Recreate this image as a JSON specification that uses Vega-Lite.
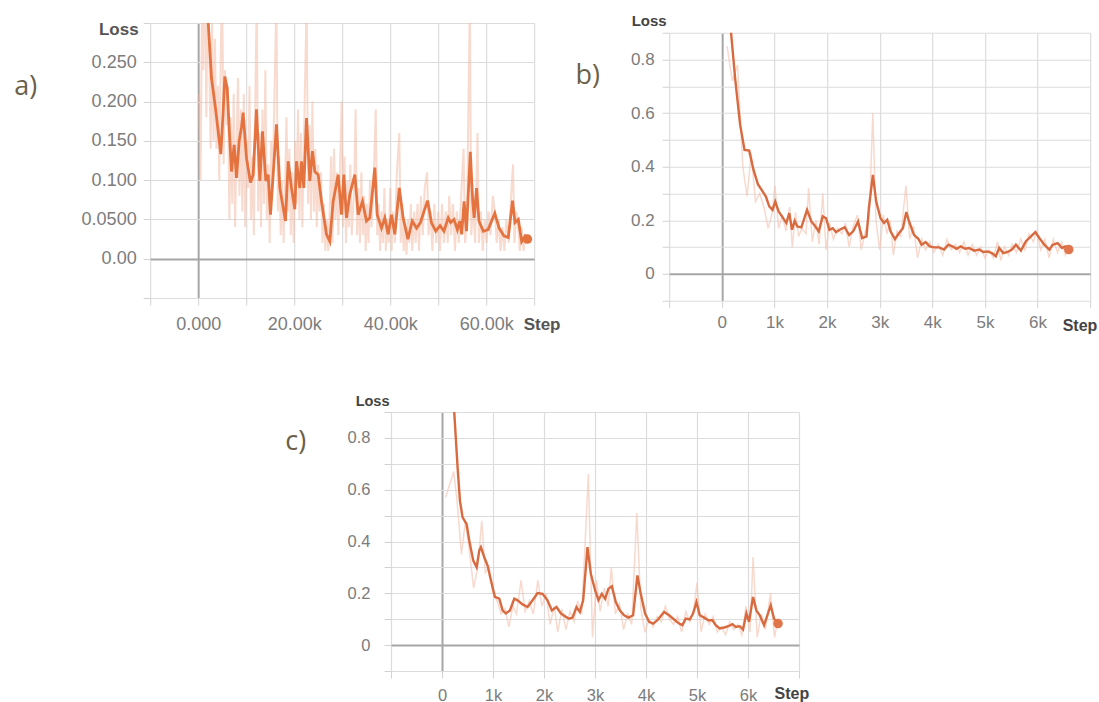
{
  "$schema": "https://vega.github.io/schema/vega-lite/v6.json",
  "padding": {"left": 14, "top": 13, "right": 0, "bottom": 0},
  "background": "white",
  "config": {
    "view": {"stroke": null},
    "axis": {
      "domain": false,
      "ticks": true,
      "tickSize": 7,
      "tickColor": "#d2d2d2",
      "labelFont": "Liberation Sans",
      "titleFont": "Liberation Sans",
      "labelColor": "#7c7c7c",
      "titleFontWeight": "bold",
      "labelFlush": false,
      "labelOverlap": false,
      "grid": true
    }
  },
  "datasets": {
    "a_smooth": [
      {"step":300,"loss":0.45},{"step":1500,"loss":0.36},{"step":2100,"loss":0.30},{"step":2778,"loss":0.230},{"step":3680,"loss":0.188},{"step":4722,"loss":0.133},{"step":5208,"loss":0.188},{"step":5556,"loss":0.232},{"step":6042,"loss":0.217},{"step":6458,"loss":0.167},{"step":6944,"loss":0.111},{"step":7500,"loss":0.145},{"step":7986,"loss":0.103},{"step":8542,"loss":0.150},{"step":9028,"loss":0.167},{"step":9375,"loss":0.186},{"step":10069,"loss":0.128},{"step":10903,"loss":0.097},{"step":11458,"loss":0.107},{"step":12153,"loss":0.190},{"step":12847,"loss":0.099},{"step":13403,"loss":0.162},{"step":14097,"loss":0.099},{"step":14583,"loss":0.107},{"step":15069,"loss":0.056},{"step":15625,"loss":0.107},{"step":16319,"loss":0.171},{"step":17014,"loss":0.090},{"step":18194,"loss":0.048},{"step":18750,"loss":0.124},{"step":19444,"loss":0.090},{"step":20139,"loss":0.063},{"step":20486,"loss":0.124},{"step":21181,"loss":0.090},{"step":21528,"loss":0.124},{"step":22014,"loss":0.090},{"step":22569,"loss":0.179},{"step":23264,"loss":0.099},{"step":23819,"loss":0.137},{"step":24306,"loss":0.111},{"step":25000,"loss":0.107},{"step":25694,"loss":0.073},{"step":26736,"loss":0.031},{"step":27431,"loss":0.022},{"step":28125,"loss":0.073},{"step":29167,"loss":0.107},{"step":29861,"loss":0.056},{"step":30347,"loss":0.107},{"step":30903,"loss":0.052},{"step":31597,"loss":0.082},{"step":32639,"loss":0.107},{"step":33333,"loss":0.056},{"step":34236,"loss":0.073},{"step":35069,"loss":0.048},{"step":35764,"loss":0.052},{"step":36806,"loss":0.116},{"step":37292,"loss":0.056},{"step":38194,"loss":0.039},{"step":38889,"loss":0.052},{"step":39583,"loss":0.031},{"step":40278,"loss":0.056},{"step":40972,"loss":0.031},{"step":41900,"loss":0.090},{"step":42700,"loss":0.052},{"step":43700,"loss":0.025},{"step":44600,"loss":0.048},{"step":45500,"loss":0.039},{"step":46300,"loss":0.046},{"step":47100,"loss":0.061},{"step":47800,"loss":0.074},{"step":48600,"loss":0.046},{"step":49500,"loss":0.035},{"step":50400,"loss":0.042},{"step":51200,"loss":0.035},{"step":52100,"loss":0.052},{"step":52600,"loss":0.046},{"step":53300,"loss":0.050},{"step":54000,"loss":0.037},{"step":54500,"loss":0.048},{"step":54900,"loss":0.031},{"step":55400,"loss":0.073},{"step":55900,"loss":0.035},{"step":56700,"loss":0.136},{"step":57200,"loss":0.073},{"step":57500,"loss":0.052},{"step":58000,"loss":0.090},{"step":58500,"loss":0.048},{"step":59400,"loss":0.035},{"step":60400,"loss":0.037},{"step":61800,"loss":0.058},{"step":62700,"loss":0.039},{"step":63700,"loss":0.029},{"step":64600,"loss":0.027},{"step":65500,"loss":0.074},{"step":66000,"loss":0.046},{"step":66700,"loss":0.050},{"step":67400,"loss":0.022},{"step":68100,"loss":0.029},{"step":68600,"loss":0.025}
    ],
    "a_raw": [
      {"step":200,"loss":0.21},{"step":500,"loss":0.10},{"step":800,"loss":0.32},{"step":1100,"loss":0.24},{"step":1400,"loss":0.45},{"step":1700,"loss":0.18},{"step":2000,"loss":0.35},{"step":2300,"loss":0.26},{"step":2600,"loss":0.14},{"step":2900,"loss":0.30},{"step":3200,"loss":0.15},{"step":3500,"loss":0.28},{"step":3800,"loss":0.14},{"step":4100,"loss":0.22},{"step":4400,"loss":0.10},{"step":4700,"loss":0.26},{"step":5000,"loss":0.35},{"step":5300,"loss":0.12},{"step":5600,"loss":0.24},{"step":5900,"loss":0.17},{"step":6200,"loss":0.22},{"step":6500,"loss":0.05},{"step":6800,"loss":0.18},{"step":7100,"loss":0.07},{"step":7400,"loss":0.21},{"step":7700,"loss":0.04},{"step":8000,"loss":0.15},{"step":8300,"loss":0.23},{"step":8600,"loss":0.08},{"step":8900,"loss":0.19},{"step":9200,"loss":0.06},{"step":9500,"loss":0.21},{"step":9800,"loss":0.04},{"step":10100,"loss":0.15},{"step":10400,"loss":0.09},{"step":10700,"loss":0.22},{"step":11000,"loss":0.05},{"step":11300,"loss":0.13},{"step":11600,"loss":0.03},{"step":11900,"loss":0.20},{"step":12200,"loss":0.33},{"step":12500,"loss":0.06},{"step":12800,"loss":0.16},{"step":13100,"loss":0.04},{"step":13400,"loss":0.19},{"step":13700,"loss":0.07},{"step":14000,"loss":0.24},{"step":14300,"loss":0.05},{"step":14600,"loss":0.12},{"step":14900,"loss":0.02},{"step":15200,"loss":0.15},{"step":15500,"loss":0.09},{"step":15800,"loss":0.18},{"step":16300,"loss":0.33},{"step":16600,"loss":0.06},{"step":16900,"loss":0.13},{"step":17200,"loss":0.03},{"step":17500,"loss":0.10},{"step":17800,"loss":0.02},{"step":18100,"loss":0.09},{"step":18400,"loss":0.18},{"step":18700,"loss":0.06},{"step":19000,"loss":0.14},{"step":19300,"loss":0.03},{"step":19600,"loss":0.11},{"step":19900,"loss":0.02},{"step":20200,"loss":0.15},{"step":20500,"loss":0.07},{"step":20800,"loss":0.19},{"step":21100,"loss":0.05},{"step":21400,"loss":0.16},{"step":21700,"loss":0.04},{"step":22000,"loss":0.14},{"step":22600,"loss":0.33},{"step":22900,"loss":0.07},{"step":23200,"loss":0.17},{"step":23500,"loss":0.05},{"step":23800,"loss":0.20},{"step":24100,"loss":0.06},{"step":24400,"loss":0.14},{"step":24700,"loss":0.04},{"step":25000,"loss":0.12},{"step":25300,"loss":0.06},{"step":25600,"loss":0.11},{"step":25900,"loss":0.02},{"step":26200,"loss":0.07},{"step":26500,"loss":0.01},{"step":26800,"loss":0.05},{"step":27100,"loss":0.01},{"step":27400,"loss":0.06},{"step":27700,"loss":0.13},{"step":28000,"loss":0.02},{"step":28300,"loss":0.14},{"step":28600,"loss":0.05},{"step":28900,"loss":0.11},{"step":29200,"loss":0.03},{"step":29900,"loss":0.20},{"step":30200,"loss":0.04},{"step":30500,"loss":0.13},{"step":30800,"loss":0.02},{"step":31100,"loss":0.10},{"step":31400,"loss":0.04},{"step":31700,"loss":0.12},{"step":32000,"loss":0.03},{"step":32500,"loss":0.09},{"step":32800,"loss":0.19},{"step":33100,"loss":0.03},{"step":33400,"loss":0.09},{"step":33700,"loss":0.02},{"step":34000,"loss":0.11},{"step":34300,"loss":0.03},{"step":34600,"loss":0.08},{"step":34900,"loss":0.01},{"step":35200,"loss":0.07},{"step":35500,"loss":0.02},{"step":35800,"loss":0.10},{"step":36100,"loss":0.04},{"step":36500,"loss":0.09},{"step":37000,"loss":0.19},{"step":37300,"loss":0.03},{"step":37600,"loss":0.07},{"step":37900,"loss":0.01},{"step":38200,"loss":0.06},{"step":38500,"loss":0.02},{"step":38800,"loss":0.09},{"step":39100,"loss":0.01},{"step":39400,"loss":0.05},{"step":39700,"loss":0.02},{"step":40000,"loss":0.09},{"step":40300,"loss":0.01},{"step":40600,"loss":0.06},{"step":41000,"loss":0.02},{"step":41400,"loss":0.11},{"step":41900,"loss":0.16},{"step":42200,"loss":0.02},{"step":42500,"loss":0.07},{"step":42800,"loss":0.01},{"step":43100,"loss":0.04},{"step":43400,"loss":0.005},{"step":43700,"loss":0.05},{"step":44000,"loss":0.02},{"step":44300,"loss":0.07},{"step":44600,"loss":0.01},{"step":45000,"loss":0.06},{"step":45300,"loss":0.02},{"step":45700,"loss":0.07},{"step":46000,"loss":0.01},{"step":46400,"loss":0.08},{"step":46800,"loss":0.03},{"step":47200,"loss":0.09},{"step":47700,"loss":0.11},{"step":48000,"loss":0.03},{"step":48400,"loss":0.06},{"step":48800,"loss":0.01},{"step":49200,"loss":0.07},{"step":49600,"loss":0.02},{"step":50000,"loss":0.06},{"step":50400,"loss":0.01},{"step":50800,"loss":0.07},{"step":51200,"loss":0.02},{"step":51600,"loss":0.06},{"step":52000,"loss":0.02},{"step":52300,"loss":0.08},{"step":52700,"loss":0.03},{"step":53100,"loss":0.07},{"step":53500,"loss":0.01},{"step":53900,"loss":0.06},{"step":54300,"loss":0.02},{"step":54700,"loss":0.07},{"step":55300,"loss":0.14},{"step":55600,"loss":0.02},{"step":56000,"loss":0.05},{"step":56600,"loss":0.33},{"step":56900,"loss":0.03},{"step":57300,"loss":0.07},{"step":57700,"loss":0.02},{"step":58200,"loss":0.16},{"step":58500,"loss":0.02},{"step":58900,"loss":0.06},{"step":59300,"loss":0.01},{"step":59700,"loss":0.05},{"step":60100,"loss":0.02},{"step":60500,"loss":0.06},{"step":60900,"loss":0.03},{"step":61400,"loss":0.08},{"step":61800,"loss":0.06},{"step":62200,"loss":0.02},{"step":62600,"loss":0.05},{"step":63000,"loss":0.01},{"step":63400,"loss":0.04},{"step":63800,"loss":0.01},{"step":64200,"loss":0.05},{"step":64700,"loss":0.02},{"step":65100,"loss":0.07},{"step":65600,"loss":0.12},{"step":65900,"loss":0.02},{"step":66300,"loss":0.06},{"step":66700,"loss":0.04},{"step":67000,"loss":0.01},{"step":67400,"loss":0.04},{"step":67800,"loss":0.01},{"step":68200,"loss":0.03},{"step":68600,"loss":0.02}
    ],
    "b_smooth": [
      {"step":100,"loss":1.07},{"step":178,"loss":0.897},{"step":254,"loss":0.729},{"step":349,"loss":0.556},{"step":432,"loss":0.463},{"step":521,"loss":0.460},{"step":603,"loss":0.388},{"step":686,"loss":0.335},{"step":775,"loss":0.308},{"step":838,"loss":0.289},{"step":902,"loss":0.252},{"step":965,"loss":0.239},{"step":1016,"loss":0.270},{"step":1080,"loss":0.233},{"step":1156,"loss":0.211},{"step":1226,"loss":0.190},{"step":1283,"loss":0.227},{"step":1334,"loss":0.165},{"step":1385,"loss":0.198},{"step":1436,"loss":0.177},{"step":1512,"loss":0.174},{"step":1620,"loss":0.239},{"step":1702,"loss":0.196},{"step":1779,"loss":0.177},{"step":1842,"loss":0.159},{"step":1918,"loss":0.215},{"step":1982,"loss":0.208},{"step":2045,"loss":0.165},{"step":2109,"loss":0.171},{"step":2172,"loss":0.156},{"step":2255,"loss":0.167},{"step":2337,"loss":0.174},{"step":2420,"loss":0.145},{"step":2500,"loss":0.160},{"step":2590,"loss":0.196},{"step":2667,"loss":0.134},{"step":2750,"loss":0.140},{"step":2795,"loss":0.246},{"step":2871,"loss":0.370},{"step":2934,"loss":0.270},{"step":3017,"loss":0.208},{"step":3080,"loss":0.190},{"step":3144,"loss":0.202},{"step":3207,"loss":0.159},{"step":3290,"loss":0.130},{"step":3366,"loss":0.152},{"step":3442,"loss":0.171},{"step":3506,"loss":0.231},{"step":3569,"loss":0.190},{"step":3652,"loss":0.146},{"step":3735,"loss":0.131},{"step":3798,"loss":0.109},{"step":3874,"loss":0.119},{"step":3951,"loss":0.103},{"step":4033,"loss":0.099},{"step":4128,"loss":0.099},{"step":4224,"loss":0.091},{"step":4306,"loss":0.109},{"step":4382,"loss":0.103},{"step":4458,"loss":0.094},{"step":4541,"loss":0.103},{"step":4624,"loss":0.094},{"step":4700,"loss":0.097},{"step":4795,"loss":0.087},{"step":4891,"loss":0.091},{"step":4967,"loss":0.082},{"step":5049,"loss":0.084},{"step":5132,"loss":0.078},{"step":5208,"loss":0.066},{"step":5271,"loss":0.097},{"step":5348,"loss":0.078},{"step":5430,"loss":0.082},{"step":5513,"loss":0.091},{"step":5589,"loss":0.109},{"step":5684,"loss":0.087},{"step":5780,"loss":0.122},{"step":5875,"loss":0.140},{"step":5958,"loss":0.156},{"step":6034,"loss":0.134},{"step":6129,"loss":0.109},{"step":6224,"loss":0.091},{"step":6288,"loss":0.109},{"step":6383,"loss":0.115},{"step":6466,"loss":0.097},{"step":6529,"loss":0.103},{"step":6593,"loss":0.091}
    ],
    "b_raw": [
      {"step":100,"loss":0.85},{"step":200,"loss":0.72},{"step":300,"loss":0.78},{"step":400,"loss":0.40},{"step":480,"loss":0.29},{"step":560,"loss":0.45},{"step":640,"loss":0.27},{"step":720,"loss":0.30},{"step":800,"loss":0.25},{"step":880,"loss":0.17},{"step":950,"loss":0.22},{"step":1010,"loss":0.33},{"step":1080,"loss":0.17},{"step":1150,"loss":0.22},{"step":1220,"loss":0.16},{"step":1290,"loss":0.25},{"step":1340,"loss":0.10},{"step":1400,"loss":0.23},{"step":1460,"loss":0.14},{"step":1520,"loss":0.17},{"step":1600,"loss":0.15},{"step":1650,"loss":0.32},{"step":1720,"loss":0.12},{"step":1790,"loss":0.20},{"step":1850,"loss":0.11},{"step":1920,"loss":0.30},{"step":1980,"loss":0.09},{"step":2050,"loss":0.19},{"step":2120,"loss":0.13},{"step":2200,"loss":0.17},{"step":2280,"loss":0.15},{"step":2350,"loss":0.19},{"step":2420,"loss":0.10},{"step":2500,"loss":0.18},{"step":2580,"loss":0.22},{"step":2650,"loss":0.09},{"step":2730,"loss":0.16},{"step":2800,"loss":0.20},{"step":2870,"loss":0.60},{"step":2930,"loss":0.20},{"step":3000,"loss":0.09},{"step":3070,"loss":0.22},{"step":3140,"loss":0.15},{"step":3200,"loss":0.20},{"step":3260,"loss":0.07},{"step":3330,"loss":0.16},{"step":3400,"loss":0.14},{"step":3500,"loss":0.33},{"step":3570,"loss":0.13},{"step":3640,"loss":0.18},{"step":3720,"loss":0.06},{"step":3800,"loss":0.13},{"step":3870,"loss":0.09},{"step":3950,"loss":0.12},{"step":4030,"loss":0.08},{"step":4110,"loss":0.11},{"step":4200,"loss":0.07},{"step":4280,"loss":0.13},{"step":4360,"loss":0.09},{"step":4440,"loss":0.11},{"step":4520,"loss":0.08},{"step":4600,"loss":0.12},{"step":4680,"loss":0.07},{"step":4760,"loss":0.11},{"step":4840,"loss":0.07},{"step":4920,"loss":0.10},{"step":5000,"loss":0.06},{"step":5080,"loss":0.09},{"step":5160,"loss":0.06},{"step":5240,"loss":0.12},{"step":5300,"loss":0.05},{"step":5370,"loss":0.10},{"step":5450,"loss":0.07},{"step":5520,"loss":0.11},{"step":5600,"loss":0.08},{"step":5680,"loss":0.13},{"step":5760,"loss":0.09},{"step":5840,"loss":0.15},{"step":5920,"loss":0.12},{"step":5990,"loss":0.16},{"step":6060,"loss":0.09},{"step":6140,"loss":0.13},{"step":6220,"loss":0.06},{"step":6300,"loss":0.13},{"step":6380,"loss":0.08},{"step":6460,"loss":0.12},{"step":6530,"loss":0.07},{"step":6590,"loss":0.10}
    ],
    "c_smooth": [
      {"step":170,"loss":1.12},{"step":241,"loss":0.896},{"step":306,"loss":0.685},{"step":352,"loss":0.557},{"step":404,"loss":0.493},{"step":483,"loss":0.467},{"step":535,"loss":0.403},{"step":613,"loss":0.326},{"step":679,"loss":0.301},{"step":731,"loss":0.365},{"step":763,"loss":0.378},{"step":829,"loss":0.339},{"step":894,"loss":0.307},{"step":959,"loss":0.250},{"step":1038,"loss":0.186},{"step":1123,"loss":0.179},{"step":1188,"loss":0.134},{"step":1253,"loss":0.122},{"step":1332,"loss":0.134},{"step":1417,"loss":0.179},{"step":1482,"loss":0.173},{"step":1580,"loss":0.157},{"step":1678,"loss":0.147},{"step":1776,"loss":0.173},{"step":1874,"loss":0.201},{"step":1972,"loss":0.198},{"step":2069,"loss":0.173},{"step":2154,"loss":0.134},{"step":2246,"loss":0.147},{"step":2331,"loss":0.122},{"step":2429,"loss":0.109},{"step":2494,"loss":0.102},{"step":2559,"loss":0.106},{"step":2637,"loss":0.147},{"step":2703,"loss":0.128},{"step":2768,"loss":0.173},{"step":2853,"loss":0.378},{"step":2918,"loss":0.275},{"step":3003,"loss":0.211},{"step":3068,"loss":0.173},{"step":3134,"loss":0.198},{"step":3199,"loss":0.179},{"step":3264,"loss":0.218},{"step":3330,"loss":0.227},{"step":3408,"loss":0.166},{"step":3486,"loss":0.134},{"step":3571,"loss":0.115},{"step":3656,"loss":0.106},{"step":3747,"loss":0.115},{"step":3832,"loss":0.269},{"step":3897,"loss":0.198},{"step":3982,"loss":0.122},{"step":4061,"loss":0.090},{"step":4139,"loss":0.083},{"step":4224,"loss":0.096},{"step":4355,"loss":0.128},{"step":4453,"loss":0.115},{"step":4551,"loss":0.099},{"step":4649,"loss":0.083},{"step":4714,"loss":0.077},{"step":4780,"loss":0.102},{"step":4858,"loss":0.099},{"step":4923,"loss":0.122},{"step":4989,"loss":0.166},{"step":5054,"loss":0.115},{"step":5139,"loss":0.106},{"step":5224,"loss":0.096},{"step":5302,"loss":0.096},{"step":5368,"loss":0.077},{"step":5446,"loss":0.064},{"step":5531,"loss":0.068},{"step":5616,"loss":0.073},{"step":5694,"loss":0.081},{"step":5759,"loss":0.070},{"step":5838,"loss":0.073},{"step":5903,"loss":0.060},{"step":5968,"loss":0.122},{"step":6021,"loss":0.090},{"step":6099,"loss":0.186},{"step":6165,"loss":0.134},{"step":6230,"loss":0.115},{"step":6315,"loss":0.077},{"step":6380,"loss":0.115},{"step":6445,"loss":0.154},{"step":6511,"loss":0.102},{"step":6589,"loss":0.083}
    ],
    "c_raw": [
      {"step":70,"loss":0.57},{"step":150,"loss":0.62},{"step":230,"loss":0.67},{"step":300,"loss":0.55},{"step":380,"loss":0.35},{"step":460,"loss":0.48},{"step":540,"loss":0.36},{"step":620,"loss":0.22},{"step":700,"loss":0.30},{"step":780,"loss":0.48},{"step":850,"loss":0.28},{"step":920,"loss":0.30},{"step":1000,"loss":0.20},{"step":1080,"loss":0.17},{"step":1160,"loss":0.12},{"step":1240,"loss":0.14},{"step":1310,"loss":0.07},{"step":1390,"loss":0.15},{"step":1460,"loss":0.12},{"step":1550,"loss":0.25},{"step":1630,"loss":0.13},{"step":1710,"loss":0.17},{"step":1790,"loss":0.12},{"step":1880,"loss":0.25},{"step":1960,"loss":0.15},{"step":2040,"loss":0.20},{"step":2120,"loss":0.08},{"step":2200,"loss":0.15},{"step":2270,"loss":0.05},{"step":2350,"loss":0.14},{"step":2430,"loss":0.06},{"step":2510,"loss":0.13},{"step":2590,"loss":0.09},{"step":2660,"loss":0.17},{"step":2740,"loss":0.12},{"step":2870,"loss":0.66},{"step":2950,"loss":0.03},{"step":3030,"loss":0.25},{"step":3100,"loss":0.13},{"step":3180,"loss":0.22},{"step":3260,"loss":0.15},{"step":3320,"loss":0.30},{"step":3400,"loss":0.12},{"step":3480,"loss":0.16},{"step":3560,"loss":0.06},{"step":3640,"loss":0.12},{"step":3720,"loss":0.08},{"step":3820,"loss":0.51},{"step":3900,"loss":0.14},{"step":3980,"loss":0.05},{"step":4060,"loss":0.10},{"step":4140,"loss":0.07},{"step":4220,"loss":0.11},{"step":4300,"loss":0.09},{"step":4380,"loss":0.15},{"step":4460,"loss":0.10},{"step":4540,"loss":0.08},{"step":4620,"loss":0.11},{"step":4700,"loss":0.05},{"step":4780,"loss":0.13},{"step":4860,"loss":0.09},{"step":4940,"loss":0.14},{"step":5000,"loss":0.24},{"step":5080,"loss":0.05},{"step":5160,"loss":0.12},{"step":5240,"loss":0.08},{"step":5320,"loss":0.11},{"step":5400,"loss":0.05},{"step":5480,"loss":0.07},{"step":5560,"loss":0.04},{"step":5640,"loss":0.09},{"step":5720,"loss":0.06},{"step":5800,"loss":0.08},{"step":5880,"loss":0.04},{"step":5960,"loss":0.15},{"step":6040,"loss":0.05},{"step":6100,"loss":0.34},{"step":6180,"loss":0.03},{"step":6260,"loss":0.12},{"step":6340,"loss":0.06},{"step":6440,"loss":0.20},{"step":6520,"loss":0.03},{"step":6590,"loss":0.10}
    ]
  },
  "center": true,
  "spacing": 50,
  "vconcat": [
    {
      "spacing": 15,
      "center": true,
      "hconcat": [
        {
          "width": 384,
          "height": 275,
          "title": {"text": "a)", "orient": "left", "anchor": "end", "angle": 0, "align": "right", "baseline": "top", "offset": 21, "dy": 60, "font": "Open Sans", "fontSize": 27, "fontWeight": "normal", "color": "#6b5f49"},
          "encoding": {
            "x": {
              "field": "step", "type": "quantitative",
              "scale": {"domain": [-10000, 70000], "nice": false, "zero": false},
              "axis": {
                "title": "Step",
                "values": [-10000, 0, 10000, 20000, 30000, 40000, 50000, 60000, 70000],
                "gridColor": {"condition": {"test": "datum.value === 0", "value": "#a6a6a6"}, "value": "#dcdcdc"},
                "gridWidth": {"condition": {"test": "datum.value === 0", "value": 2}, "value": 1.2},
                "labelExpr": "datum.value === 0 ? '0.000' : (datum.value > 0 && datum.value % 20000 === 0 ? format(datum.value / 1000, '.2f') + 'k' : '')",
                "labelFontSize": {"condition": {"test": "datum.value === -10000", "value": 28}, "value": 18},
                "labelPadding": 10,
                "titleX": 373, "titleY": 31, "titleAlign": "left", "titleBaseline": "alphabetic",
                "titleFontSize": 17, "titleColor": "#555555"
              }
            },
            "y": {
              "field": "loss", "type": "quantitative",
              "scale": {"domain": [-0.05, 0.3], "nice": false, "zero": false},
              "axis": {
                "title": "Loss",
                "values": [-0.05, 0, 0.05, 0.1, 0.15, 0.2, 0.25, 0.3],
                "gridColor": {"condition": {"test": "datum.value === 0", "value": "#a6a6a6"}, "value": "#dcdcdc"},
                "gridWidth": {"condition": {"test": "datum.value === 0", "value": 2}, "value": 1.2},
                "labelExpr": "datum.value === 0 ? '0.00' : (datum.value === 0.05 ? '0.0500' : (datum.value >= 0.1 && datum.value <= 0.25 ? format(datum.value, '.3f') : ''))",
                "labelFontSize": 18,
                "labelPadding": 7,
                "titleAngle": 0, "titleX": -12, "titleY": 11, "titleAlign": "right", "titleBaseline": "alphabetic",
                "titleFontSize": 17, "titleColor": "#555555"
              }
            }
          },
          "layer": [
            {"data": {"name": "a_raw"}, "mark": {"type": "line", "color": "#f2b59d", "opacity": 0.5, "strokeWidth": 2, "clip": true}, "encoding": {}},
            {"data": {"name": "a_smooth"}, "mark": {"type": "line", "color": "#e5733f", "strokeWidth": 2.8, "clip": true}, "encoding": {}},
            {"data": {"name": "a_smooth"}, "transform": [{"filter": "datum.step >= 68600"}], "mark": {"type": "point", "filled": true, "size": 90, "color": "#e5733f", "opacity": 1}, "encoding": {}}
          ]
        },
        {
          "width": 421,
          "height": 268,
          "title": {"text": "b)", "orient": "left", "anchor": "end", "angle": 0, "align": "right", "baseline": "top", "offset": 6, "dy": 49, "font": "Open Sans", "fontSize": 27, "fontWeight": "normal", "color": "#6b5f49"},
          "encoding": {
            "x": {
              "field": "step", "type": "quantitative",
              "scale": {"domain": [-1000, 7000], "nice": false, "zero": false},
              "axis": {
                "title": "Step",
                "values": [-1000, 0, 1000, 2000, 3000, 4000, 5000, 6000, 7000],
                "gridColor": {"condition": {"test": "datum.value === 0", "value": "#a6a6a6"}, "value": "#dcdcdc"},
                "gridWidth": {"condition": {"test": "datum.value === 0", "value": 2}, "value": 1.2},
                "labelExpr": "datum.value === 0 ? '0' : (datum.value > 0 && datum.value <= 6000 ? format(datum.value / 1000, 'd') + 'k' : '')",
                "labelFontSize": 17,
                "labelPadding": 7,
                "titleX": 393, "titleY": 29.5, "titleAlign": "left", "titleBaseline": "alphabetic",
                "titleFontSize": 16, "titleColor": "#444444"
              }
            },
            "y": {
              "field": "loss", "type": "quantitative",
              "scale": {"domain": [-0.1, 0.9], "nice": false, "zero": false},
              "axis": {
                "title": "Loss",
                "values": [-0.1, 0, 0.1, 0.2, 0.3, 0.4, 0.5, 0.6, 0.7, 0.8, 0.9],
                "gridColor": {"condition": {"test": "datum.value === 0", "value": "#a6a6a6"}, "value": "#dcdcdc"},
                "gridWidth": {"condition": {"test": "datum.value === 0", "value": 2}, "value": 1.2},
                "labelExpr": "datum.value === 0 ? '0' : (datum.value === 0.2 || datum.value === 0.4 || datum.value === 0.6 || datum.value === 0.8 ? format(datum.value, '.1f') : '')",
                "labelFontSize": 17,
                "labelPadding": 8,
                "titleAngle": 0, "titleX": -3, "titleY": -7, "titleAlign": "right", "titleBaseline": "alphabetic",
                "titleFontSize": 15, "titleColor": "#444444"
              }
            }
          },
          "layer": [
            {"data": {"name": "b_raw"}, "mark": {"type": "line", "color": "#f4c0ad", "opacity": 0.6, "strokeWidth": 1.5, "clip": true}, "encoding": {}},
            {"data": {"name": "b_smooth"}, "mark": {"type": "line", "color": "#d86a40", "strokeWidth": 2.4, "clip": true}, "encoding": {}},
            {"data": {"name": "b_smooth"}, "transform": [{"filter": "datum.step >= 6593"}], "mark": {"type": "point", "filled": true, "size": 90, "color": "#e0744a", "opacity": 1}, "encoding": {}}
          ]
        }
      ]
    },
    {
      "width": 408,
      "height": 259,
      "title": {"text": "c)", "orient": "left", "anchor": "end", "angle": 0, "align": "right", "baseline": "top", "offset": 20, "dy": 36, "font": "Open Sans", "fontSize": 27, "fontWeight": "normal", "color": "#6b5f49"},
      "encoding": {
        "x": {
          "field": "step", "type": "quantitative",
          "scale": {"domain": [-1000, 7000], "nice": false, "zero": false},
          "axis": {
            "title": "Step",
            "values": [-1000, 0, 1000, 2000, 3000, 4000, 5000, 6000, 7000],
            "gridColor": {"condition": {"test": "datum.value === 0", "value": "#a6a6a6"}, "value": "#dcdcdc"},
            "gridWidth": {"condition": {"test": "datum.value === 0", "value": 2}, "value": 1.2},
            "labelExpr": "datum.value === 0 ? '0' : (datum.value > 0 && datum.value <= 6000 ? format(datum.value / 1000, 'd') + 'k' : '')",
            "labelFontSize": 16.5,
            "labelOffset": {"condition": {"test": "datum.value === 7000", "value": 57}, "value": 0},
            "labelPadding": 9,
            "titleX": 383, "titleY": 27.5, "titleAlign": "left", "titleBaseline": "alphabetic",
            "titleFontSize": 16, "titleColor": "#444444"
          }
        },
        "y": {
          "field": "loss", "type": "quantitative",
          "scale": {"domain": [-0.1, 0.9], "nice": false, "zero": false},
          "axis": {
            "title": "Loss",
            "values": [-0.1, 0, 0.1, 0.2, 0.3, 0.4, 0.5, 0.6, 0.7, 0.8, 0.9],
            "gridColor": {"condition": {"test": "datum.value === 0", "value": "#a6a6a6"}, "value": "#dcdcdc"},
            "gridWidth": {"condition": {"test": "datum.value === 0", "value": 2}, "value": 1.2},
            "labelExpr": "datum.value === 0 ? '0' : (datum.value === 0.2 || datum.value === 0.4 || datum.value === 0.6 || datum.value === 0.8 ? format(datum.value, '.1f') : '')",
            "labelFontSize": 16.5,
            "labelPadding": 14,
            "titleAngle": 0, "titleX": -2, "titleY": -7, "titleAlign": "right", "titleBaseline": "alphabetic",
            "titleFontSize": 14.5, "titleColor": "#444444"
          }
        }
      },
      "layer": [
        {"data": {"name": "c_raw"}, "mark": {"type": "line", "color": "#f4c0ad", "opacity": 0.6, "strokeWidth": 1.5, "clip": true}, "encoding": {}},
        {"data": {"name": "c_smooth"}, "mark": {"type": "line", "color": "#d86a40", "strokeWidth": 2.4, "clip": true}, "encoding": {}},
        {"data": {"name": "c_smooth"}, "transform": [{"filter": "datum.step >= 6589"}], "mark": {"type": "point", "filled": true, "size": 90, "color": "#e0744a", "opacity": 1}, "encoding": {}}
      ]
    }
  ]
}
